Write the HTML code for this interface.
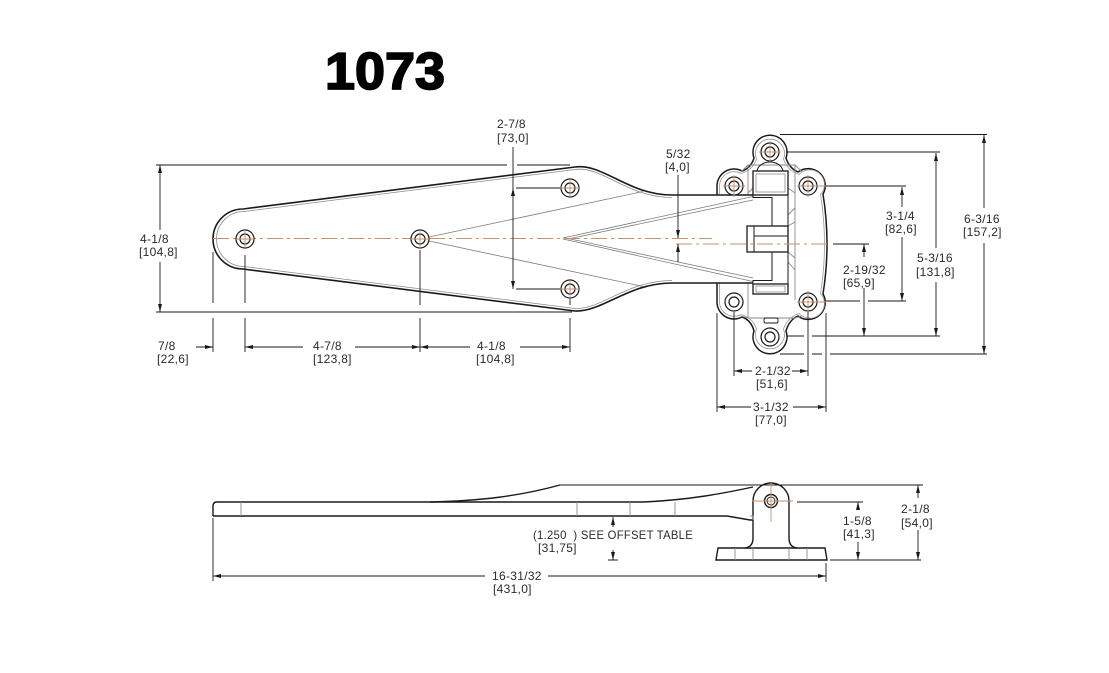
<!DOCTYPE html>
<html><head><meta charset="utf-8"><style>
html,body{margin:0;padding:0;background:#fff;overflow:hidden;}
svg{display:block;}
text{font-family:"Liberation Sans",sans-serif;fill:#2a2a2a;}
.t{font-size:12px;letter-spacing:0.3px;}
</style></head><body>
<svg width="1109" height="673" viewBox="0 0 1109 673" xmlns="http://www.w3.org/2000/svg">
<rect width="1109" height="673" fill="#fff"/>

<text x="325" y="89" font-weight="bold" font-size="52" textLength="120" lengthAdjust="spacingAndGlyphs" style="fill:#000;stroke:#000;stroke-width:1.8">1073</text>

<!-- ===== Flange (behind strap) ===== -->
<path d="M717,186 A17,17 0 0 1 742,171 Q751,168 754,158 A17,17 0 1 1 786,158 Q789,168 798,172 A17,17 0 0 1 823,194 Q831,244 823,294 A17,17 0 0 1 798,316 Q789,320 786,331 A17,17 0 1 1 754,331 Q751,320 742,317 A17,17 0 0 1 717,302 Z" fill="#fff" stroke="#1a1a1a" stroke-width="1.5"/>
<path d="M719.5,186 A14.5,14.5 0 0 1 741,173.5 Q753,170 756.5,159 A14.5,14.5 0 1 1 783.5,159 Q787,170 799,174.5 A14.5,14.5 0 0 1 820.5,194.5 Q828.5,244 820.5,293.5 A14.5,14.5 0 0 1 799,313.5 Q787,318 783.5,329 A14.5,14.5 0 1 1 756.5,329 Q753,318 741,314.5 A14.5,14.5 0 0 1 719.5,302 Z" fill="none" stroke="#999" stroke-width="0.8"/>

<!-- boss gray lines -->
<g stroke="#8a8a8a" stroke-width="0.9" fill="none">
<path d="M748,195 L748,165 L795,165 L795,300"/>
<path d="M748,283 L748,318 L795,318"/>
<path d="M741,172 L748,165 M802,172 L795,165 M741,316 L748,318 M802,316 L795,318"/>
<path d="M788,215 L795,208 M788,262 L795,270 M788,226 L795,222 M788,252 L795,258"/>
<path d="M748,193 L753,188 M795,193 L788,188"/>
</g>
<path d="M757,172 A13,10 0 0 1 783,172" fill="none" stroke="#1a1a1a" stroke-width="1"/>
<rect x="764" y="318" width="14" height="5" rx="1.5" fill="none" stroke="#1a1a1a" stroke-width="0.9"/>

<!-- ===== Strap (top view) ===== -->
<path d="M753,195 L672,195 C628,195 603,163 575,167 L243,209 A30,30 0 0 0 243,269 L575,311 C603,312 628,283 672,283 L753,283 Z" fill="#fff" stroke="none"/>
<path d="M753,195 L672,195 C628,195 603,163 575,167 L243,209 A30,30 0 0 0 243,269 L575,311 C603,312 628,283 672,283 L753,283" fill="none" stroke="#1a1a1a" stroke-width="1.6"/>
<path d="M672,197.5 C627,197.5 602,165.5 575,169.5 L244,211.5 A27.5,27.5 0 0 0 244,266.5 L575,308.5 C602,309.5 627,280.5 672,280.5" fill="none" stroke="#8a8a8a" stroke-width="0.8"/>
<!-- inner strap lines -->
<g stroke="#7a7a7a" stroke-width="0.8" fill="none">
<path d="M429,237 L643,191.5"/>
<path d="M429,241 L643,286.5"/>
<path d="M563,238 L753,196.5"/>
<path d="M568,239 L753,200"/>
<path d="M563,239 L753,281.5"/>
<path d="M568,238.5 L753,278"/>
</g>

<!-- knuckle -->
<g stroke="#1a1a1a" stroke-width="1.3" fill="#fff">
<rect x="753" y="171" width="35" height="24"/>
<rect x="747" y="226" width="41" height="26"/>
<rect x="753" y="284" width="35" height="10"/>
</g>
<g stroke="#1a1a1a" stroke-width="1" fill="none">
<path d="M788,171 L788,294"/>
<path d="M754,226 L754,252 M754,236 L788,236"/>
<path d="M753,195 L753,197.5 L772,197.5 L772,226"/>
<path d="M753,283 L753,280.5 L772,280.5 L772,252"/>
</g>
<g stroke="#8a8a8a" stroke-width="0.8" fill="none">
<rect x="756" y="174" width="29" height="18"/>
<rect x="756" y="286" width="29" height="6"/>
</g>

<!-- centerlines -->
<g stroke="#c4916a" stroke-width="1" fill="none">
<path d="M213,238.5 L712,238.5" stroke-dasharray="16 4 3 4"/>
<path d="M676,244 L831,244" stroke-dasharray="16 4 3 4"/>
</g>

<!-- holes -->
<g fill="#fff" stroke="#1a1a1a" stroke-width="1.2">
<circle cx="245" cy="239" r="9"/><circle cx="245" cy="239" r="5"/>
<circle cx="420" cy="239" r="9"/><circle cx="420" cy="239" r="5"/>
<circle cx="570" cy="188" r="9"/><circle cx="570" cy="188" r="5"/>
<circle cx="570" cy="289" r="9"/><circle cx="570" cy="289" r="5"/>
<circle cx="770" cy="152" r="9"/><circle cx="770" cy="152" r="5"/>
<circle cx="734" cy="186" r="9"/><circle cx="734" cy="186" r="5"/>
<circle cx="808" cy="186" r="9"/><circle cx="808" cy="186" r="5"/>
<circle cx="734" cy="302" r="9"/><circle cx="734" cy="302" r="5"/>
<circle cx="808" cy="302" r="9"/><circle cx="808" cy="302" r="5"/>
<circle cx="770" cy="337" r="9"/><circle cx="770" cy="337" r="5"/>
</g>
<g stroke="#c4916a" stroke-width="0.9">
<path d="M236,239 H254 M245,230 V248"/>
<path d="M411,239 H429 M420,230 V248"/>
<path d="M561,188 H579 M570,179 V197"/>
<path d="M561,289 H579 M570,280 V298"/>
<path d="M759,152 H781 M770,141 V163"/>
<path d="M723,186 H745 M734,175 V197"/>
<path d="M797,186 H826 M808,175 V197"/>
<path d="M797,302 H826 M808,291 V313"/>
</g>

<!-- ===== Dimension lines ===== -->
<g stroke="#1a1a1a" stroke-width="0.9" fill="none">
<path d="M156,165 H507 M517,165 H570"/>
<path d="M156,312 H572"/>
<path d="M160,165 V230 M160,262 V312"/>
<path d="M213,252 V303 M213,318 V352"/>
<path d="M245,255 V303 M245,318 V352"/>
<path d="M420,250 V305 M420,318 V352"/>
<path d="M570,299 V305 M570,318 V352"/>
<path d="M196,347 H213 M245,347 H303 M355,347 H420 M420,347 H470 M520,347 H570"/>
<path d="M513,147 V289"/>
<path d="M516,188 H560 M516,289 H560"/>
<path d="M678,175 V238 M678,244 V262"/>
<path d="M780,134.5 H987"/>
<path d="M786,152 H940"/>
<path d="M826,186 H906"/>
<path d="M833,244 H869"/>
<path d="M826,301 H860 M868,301 H906"/>
<path d="M787,336 H804 M812,336 H940"/>
<path d="M780,354 H804 M812,354 H822 M830,354 H987"/>
<path d="M984,135 V208 M984,243 V354"/>
<path d="M936,153 V248 M936,282 V336"/>
<path d="M902,187 V207 M902,237 V301"/>
<path d="M864,244 V257 M864,288 V336"/>
<path d="M717,313 V412 M734,312 V376 M808,312 V376 M826,313 V412"/>
<path d="M734,371 H752 M792,371 H808"/>
<path d="M717,407 H751 M793,407 H826"/>
<path d="M560,485 H923"/>
<path d="M797,502 H863"/>
<path d="M830,560 H921"/>
<path d="M858,502 V510 M858,542 V560"/>
<path d="M918,485 V498 M918,530 V560"/>
<path d="M613,517 V527 M613,550 V560 M608,560 H618"/>
<path d="M213,518 V581 M826,563 V582"/>
<path d="M213,576 H485 M548,576 H826"/>
</g>

<!-- arrowheads -->
<g fill="#1a1a1a">
<polygon points="160,165 158,173 162,173"/>
<polygon points="160,312 158,304 162,304"/>
<polygon points="213,347 205,345 205,349"/>
<polygon points="245,347 253,345 253,349"/>
<polygon points="420,347 412,345 412,349"/>
<polygon points="420,347 428,345 428,349"/>
<polygon points="570,347 562,345 562,349"/>
<polygon points="513,188 511,196 515,196"/>
<polygon points="513,289 511,281 515,281"/>
<polygon points="678,238 676,230 680,230"/>
<polygon points="678,244 676,252 680,252"/>
<polygon points="984,135 982,143 986,143"/>
<polygon points="984,354 982,346 986,346"/>
<polygon points="936,153 934,161 938,161"/>
<polygon points="936,336 934,328 938,328"/>
<polygon points="902,187 900,195 904,195"/>
<polygon points="902,301 900,293 904,293"/>
<polygon points="864,244 862,252 866,252"/>
<polygon points="864,336 862,328 866,328"/>
<polygon points="734,371 742,369 742,373"/>
<polygon points="808,371 800,369 800,373"/>
<polygon points="717,407 725,405 725,409"/>
<polygon points="826,407 818,405 818,409"/>
<polygon points="858,502 856,510 860,510"/>
<polygon points="858,560 856,552 860,552"/>
<polygon points="918,485 916,493 920,493"/>
<polygon points="918,560 916,552 920,552"/>
<polygon points="613,517 611,525 615,525"/>
<polygon points="613,560 611,552 615,552"/>
<polygon points="213,576 221,574 221,578"/>
<polygon points="826,576 818,574 818,578"/>
</g>

<!-- ===== Side view ===== -->
<g stroke="#1a1a1a" stroke-width="1.4" fill="none">
<path d="M213,516 L213,506 Q213,502 217,502 L643,502"/>
<path d="M213,516 L727,516 L750,520 L753,520"/>
<path d="M430,502 C480,501 520,496 560,485"/>
<path d="M643,502 C690,500 725,493 753,487"/>
<path d="M745,548 Q753,547 753,538 L753,501 A18,18 0 0 1 789,501 L789,538 Q789,547 797,548"/>
<path d="M718,548 L825,548 L827,560 L716,560 Z"/>
</g>
<g stroke="#8a8a8a" stroke-width="0.9" fill="none">
<path d="M241,502 V516 M577,502 V516 M630,502 V516 M675,502 V516"/>
<path d="M735,548 V560 M753,548 V560 M789,548 V560 M807,548 V560"/>
<path d="M750,516 L753,516 L753,520"/>
</g>
<circle cx="771" cy="501" r="6.5" fill="#fff" stroke="#1a1a1a" stroke-width="1.4"/>
<circle cx="771" cy="501" r="4" fill="none" stroke="#1a1a1a" stroke-width="1"/>
<g stroke="#c4916a" stroke-width="0.9">
<path d="M752,501 H793 M771,483 V522"/>
</g>

<!-- ===== Labels ===== -->
<g class="t">
<text x="140" y="243">4-1/8</text><text x="139" y="256">[104,8]</text>
<text x="158" y="350">7/8</text><text x="157" y="363">[22,6]</text>
<text x="313" y="350">4-7/8</text><text x="313" y="363">[123,8]</text>
<text x="477" y="350">4-1/8</text><text x="476" y="363">[104,8]</text>
<text x="497" y="128">2-7/8</text><text x="497" y="142">[73,0]</text>
<text x="666" y="158">5/32</text><text x="665" y="171">[4,0]</text>
<text x="964" y="223">6-3/16</text><text x="963" y="236">[157,2]</text>
<text x="917" y="262">5-3/16</text><text x="916" y="276">[131,8]</text>
<text x="886" y="220">3-1/4</text><text x="885" y="233">[82,6]</text>
<text x="843" y="274">2-19/32</text><text x="843" y="287">[65,9]</text>
<text x="755" y="375">2-1/32</text><text x="756" y="388">[51,6]</text>
<text x="753" y="411">3-1/32</text><text x="755" y="424">[77,0]</text>
<text x="843" y="525">1-5/8</text><text x="843" y="538">[41,3]</text>
<text x="901" y="513">2-1/8</text><text x="901" y="527">[54,0]</text>
<text x="533" y="539" textLength="160" lengthAdjust="spacingAndGlyphs">(1.250&#160;&#160;) SEE OFFSET TABLE</text><text x="538" y="552">[31,75]</text>
<text x="492" y="580">16-31/32</text><text x="493" y="593">[431,0]</text>
</g>
</svg>
</body></html>
